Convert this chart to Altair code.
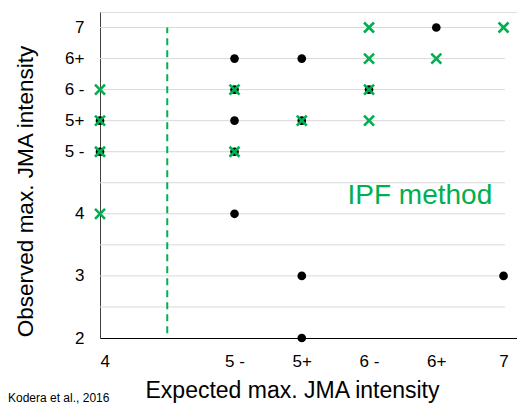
import altair as alt
import pandas as pd

# ---- data ----
x_levels = ["4", "5-", "5+", "6-", "6+", "7"]
x_codes = [0, 2, 3, 4, 5, 6]
x_text = ["4", "5 -", "5+", "6 -", "6+", "7"]

y_levels = ["2", "3", "4", "5-", "5+", "6-", "6+", "7"]
y_codes = [0, 2, 4, 6, 7, 8, 9, 10]
y_text = ["2", "3", "4", "5 -", "5+", "6 -", "6+", "7"]

grid_codes = [1, 2, 3, 4, 5, 6, 7, 8, 9, 10]

dots_expected = ["4", "4", "5-", "5-", "5-", "5-", "5-", "5+", "5+", "5+", "5+", "6-", "6+", "7"]
dots_observed = ["5+", "5-", "6+", "6-", "5+", "5-", "4", "6+", "5+", "3", "2", "6-", "7", "3"]

cross_expected = ["4", "4", "4", "4", "5-", "5-", "5+", "6-", "6-", "6-", "6-", "6+", "7"]
cross_observed = ["6-", "5+", "5-", "4", "6-", "5-", "5+", "7", "6+", "6-", "5+", "6+", "7"]

threshold_x = [1]

GREEN = "#00b050"
FONT = "Liberation Sans"

xmap = dict(zip(x_levels, x_codes))
ymap = dict(zip(y_levels, y_codes))

dots = pd.DataFrame({
    "x": [xmap[v] for v in dots_expected],
    "y": [ymap[v] for v in dots_observed],
})
crosses = pd.DataFrame({
    "x": [xmap[v] for v in cross_expected],
    "y": [ymap[v] for v in cross_observed],
})
grid = pd.DataFrame({"y": grid_codes, "x0": 0, "x1": 6.02})
thr = pd.DataFrame({"x": threshold_x, "y0": 0.15, "y1": 10})


def label_expr(codes, texts, pad):
    parts = []
    for c, t in zip(codes, texts):
        tt = t + (pad if len(t) > 1 else "")
        parts.append(f"datum.value == {c} ? '{tt}'")
    return " : ".join(parts) + " : ''"


xscale = alt.Scale(domain=[0, 6.2], nice=False, zero=False)
yscale = alt.Scale(domain=[0, 10.5], nice=False, zero=False)

xaxis = alt.Axis(
    values=x_codes, labelExpr=label_expr(x_codes, x_text, "\u00a0\u00a0"),
    grid=False, ticks=False, domainColor="#000000", domainWidth=1,
    labelFont=FONT, labelFontSize=17, labelColor="#000000", labelPadding=15,
    title="Expected max. JMA intensity", titleFont=FONT, titleFontSize=23,
    titleFontWeight="normal", titleColor="#000000",
    titleX=192, titleY=59, titleAlign="center", titleBaseline="alphabetic",
)
yaxis = alt.Axis(
    values=y_codes, labelExpr=label_expr(y_codes, y_text, "\u00a0"),
    grid=False, ticks=False, domainColor="#404040", domainWidth=1,
    labelFont=FONT, labelFontSize=17, labelColor="#000000", labelPadding=16,
    title="Observed max. JMA intensity", titleFont=FONT, titleFontSize=22.5,
    titleFontWeight="normal", titleColor="#000000", titlePadding=27,
    titleY=179, titleAlign="center",
)

grid_layer = alt.Chart(grid).mark_rule(color="#d9d9d9", strokeWidth=1).encode(
    x=alt.X("x0:Q", scale=xscale, axis=xaxis),
    x2="x1:Q",
    y=alt.Y("y:Q", scale=yscale, axis=yaxis),
)

thr_layer = alt.Chart(thr).mark_rule(color=GREEN, strokeWidth=2, strokeDash=[7, 5]).encode(
    x=alt.X("x:Q", scale=xscale),
    y=alt.Y("y0:Q", scale=yscale),
    y2="y1:Q",
)

dot_layer = alt.Chart(dots).mark_point(
    shape="circle", filled=True, color="#000000", size=75, opacity=1
).encode(
    x=alt.X("x:Q", scale=xscale),
    y=alt.Y("y:Q", scale=yscale),
)

cross_layer = alt.Chart(crosses).mark_point(
    shape="M-1,-1L1,1M-1,1L1,-1", filled=False, stroke=GREEN, strokeWidth=2.6,
    size=100, opacity=1,
).encode(
    x=alt.X("x:Q", scale=xscale),
    y=alt.Y("y:Q", scale=yscale),
)

ipf = alt.Chart(pd.DataFrame({"x": [3.68], "y": [4.32], "t": ["IPF method"]})).mark_text(
    align="left", baseline="alphabetic", font=FONT, fontSize=28, color=GREEN
).encode(
    x=alt.X("x:Q", scale=xscale),
    y=alt.Y("y:Q", scale=yscale),
    text="t:N",
)

cite = alt.Chart(pd.DataFrame({"t": ["Kodera et al., 2016"]})).mark_text(
    align="left", baseline="alphabetic", font=FONT, fontSize=12, color="#000000"
).encode(
    x=alt.value(-92),
    y=alt.value(390),
    text="t:N",
)

chart = alt.layer(grid_layer, thr_layer, dot_layer, cross_layer, ipf, cite).properties(
    width=417, height=326,
    autosize=alt.AutoSizeParams(type="none"),
    padding={"left": 100, "top": 12, "right": 0, "bottom": 66},
).configure_view(stroke=None).configure(background="#ffffff")

chart.save("out.html", embed_options={"renderer": "svg", "actions": False})
